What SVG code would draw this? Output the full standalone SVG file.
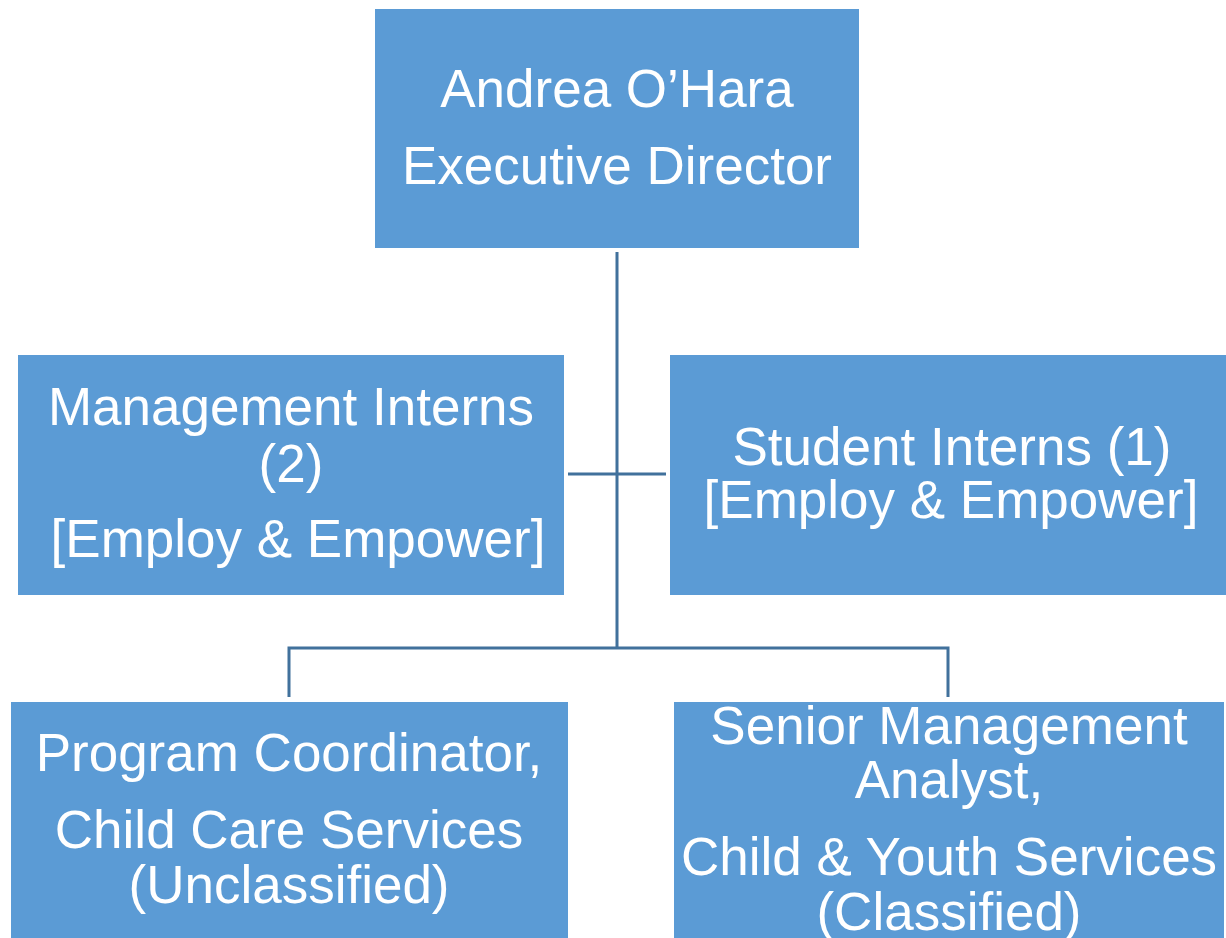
<svg xmlns="http://www.w3.org/2000/svg" width="1226" height="938" viewBox="0 0 1226 938">
<style>
.box{fill:#5B9BD5;}
.t{font-family:"Liberation Sans",Arial,sans-serif;font-size:53px;fill:#FFFFFF;text-anchor:middle;}
.c{stroke:#41719C;stroke-width:3;fill:none;}
</style>
<rect width="1226" height="938" fill="#FFFFFF"/>
<g id="connectors">
<line class="c" x1="617" y1="252" x2="617" y2="648"/>
<line class="c" x1="568" y1="474" x2="666" y2="474"/>
<polyline class="c" points="289,697 289,648 948,648 948,697"/>
</g>
<g id="director">
<rect class="box" x="375" y="9" width="484" height="239"/>
<text class="t" x="617" y="107">Andrea O’Hara</text>
<text class="t" x="617" y="184">Executive Director</text>
</g>
<g id="mgmt-interns">
<rect class="box" x="18" y="355" width="546" height="240"/>
<text class="t" x="291" y="425">Management Interns</text>
<text class="t" x="291" y="482">(2)</text>
<text class="t" x="298" y="557">[Employ &amp; Empower]</text>
</g>
<g id="student-interns">
<rect class="box" x="670" y="355" width="556" height="240"/>
<text class="t" x="952" y="465">Student Interns (1)</text>
<text class="t" x="951" y="518">[Employ &amp; Empower]</text>
</g>
<g id="program-coordinator">
<rect class="box" x="11" y="702" width="557" height="236"/>
<text class="t" x="289" y="771">Program Coordinator,</text>
<text class="t" x="289" y="848">Child Care Services</text>
<text class="t" x="289" y="903">(Unclassified)</text>
</g>
<g id="senior-analyst">
<rect class="box" x="674" y="702" width="550" height="236"/>
<text class="t" x="949" y="744">Senior Management</text>
<text class="t" x="949" y="798">Analyst,</text>
<text class="t" x="949" y="875">Child &amp; Youth Services</text>
<text class="t" x="949" y="930">(Classified)</text>
</g>
</svg>
